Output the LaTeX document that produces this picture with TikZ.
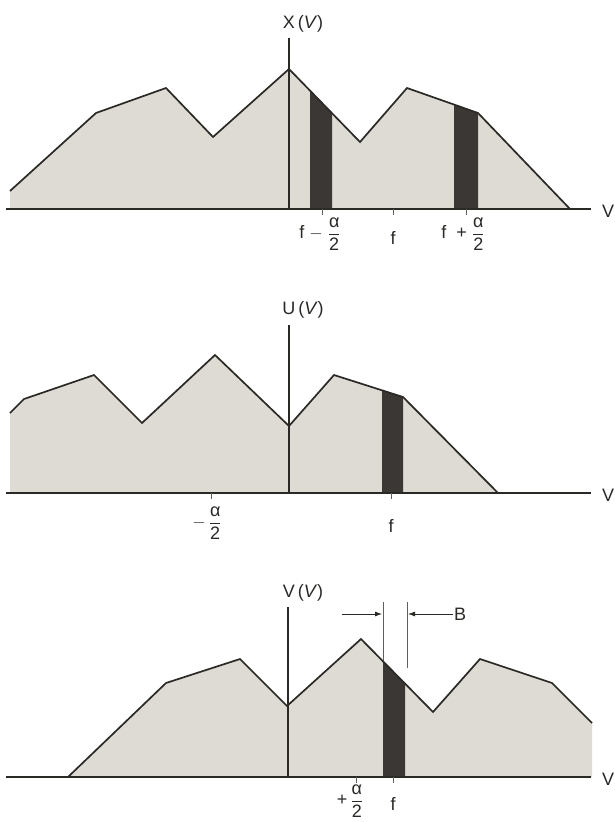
\documentclass[tikz,border=0pt]{standalone}
\usepackage{amsmath}
\usepackage{fontspec}
\setmainfont{Liberation Sans}
\usetikzlibrary{arrows.meta}
\definecolor{c1}{HTML}{2B2926}
\definecolor{c2}{HTML}{DEDBD4}
\definecolor{c3}{HTML}{3A3734}

\begin{document}
\begin{tikzpicture}[x=1pt, y=-1pt,
    every node/.style={font=\fontsize{18}{20}\selectfont, text=c1, inner sep=1pt},
    curve/.style={c1, line width=1.7pt, line join=miter},
    axis/.style={c1, line width=1.2pt},
    area/.style={fill=c2},
    band/.style={fill=c3},
    tick/.style={c1!75, line width=0.8pt},
    dim/.style={c1, line width=0.8pt, -{Latex[length=7pt, width=5pt]}},
]
\def\fr{$\dfrac{\textrm{α}}{\textrm{2}}$}

\useasboundingbox (0,0) rectangle (614,822);
\fill[white] (0,0) rectangle (614,822);

% ---------------------------------------------------------------- X(V)
\fill[area] (10,209) -- (10,191) -- (96,113) -- (166,88) -- (213,137) -- (289,69)
    -- (360,142) -- (407,88) -- (478,113) -- (570,209) -- cycle;
\fill[band] (310,209) -- (310,90.6) -- (332,113.2) -- (332,209) -- cycle;
\fill[band] (454,209) -- (454,104.5) -- (478,113) -- (478,209) -- cycle;
\draw[curve] (10,191) -- (96,113) -- (166,88) -- (213,137) -- (289,69)
    -- (360,142) -- (407,88) -- (478,113) -- (570,209);
\draw[axis] (6,209) -- (591,209);
\draw[axis] (289,38) -- (289,209);
\node (xl) at (303,24) {X\,(\textit{V})};
\node[anchor=west] (xv) at (601,211) {V};
\foreach \t in {322, 393, 466}{
    \draw[tick] (\t,209) -- (\t,215);
}
\node (xa) at (320,234) {f\;$-$\;\fr};
\node (xb) at (393,238) {f};
\node (xc) at (463,234) {f\;\;+\;\fr};

% ---------------------------------------------------------------- U(V)
\fill[area] (10,493) -- (10,413) -- (24,399) -- (94,375) -- (142,423) -- (215,355)
    -- (289,426) -- (334,375) -- (403,397) -- (498,493) -- cycle;
\fill[band] (382,493) -- (382,390.3) -- (403,397) -- (403,493) -- cycle;
\draw[curve] (10,413) -- (24,399) -- (94,375) -- (142,423) -- (215,355)
    -- (289,426) -- (334,375) -- (403,397) -- (498,493);
\draw[axis] (6,493) -- (591,493);
\draw[axis] (289,325) -- (289,493);
\node (ul) at (303,310) {U\,(\textit{V})};
\node[anchor=west] (uv) at (601,495) {V};
\foreach \t in {211, 391}{
    \draw[tick] (\t,493) -- (\t,499);
}
\node (ua) at (207,523) {$-$\,\fr};
\node (ub) at (391,526) {f};

% ---------------------------------------------------------------- V(V)
\fill[area] (68,777) -- (166,683) -- (240,659) -- (287,706) -- (361,639) -- (433,712)
    -- (480,659) -- (552,683) -- (592,723) -- (592,777) -- cycle;
\fill[band] (383,777) -- (383,661.3) -- (405,683.6) -- (405,777) -- cycle;
\draw[curve] (68,777) -- (166,683) -- (240,659) -- (287,706) -- (361,639) -- (433,712)
    -- (480,659) -- (552,683) -- (592,723);
\draw[axis] (6,777) -- (591,777);
\draw[axis] (288,607) -- (288,777);
\node (vl) at (303,593) {V\,(\textit{V})};
\node[anchor=west] (vv) at (601,779) {V};
\foreach \t in {356, 393}{
    \draw[tick] (\t,777) -- (\t,783);
}
\node (va) at (350,801) {+\,\fr};
\node (vb) at (393,804) {f};

% the width B
\coordinate (bl) at (383,602);
\coordinate (br) at (407,602);
\draw[tick] (bl) -- (383,661);
\draw[tick] (br) -- (407,668);
\coordinate (al) at (342,614);
\coordinate (ar) at (382,614);
\coordinate (bb) at (408,614);
\node[anchor=west] (bn) at (453,614) {B};
\draw[dim] (al) -- (ar);
\draw[dim] (bn.west) -- (bb);
\end{tikzpicture}
\end{document}
